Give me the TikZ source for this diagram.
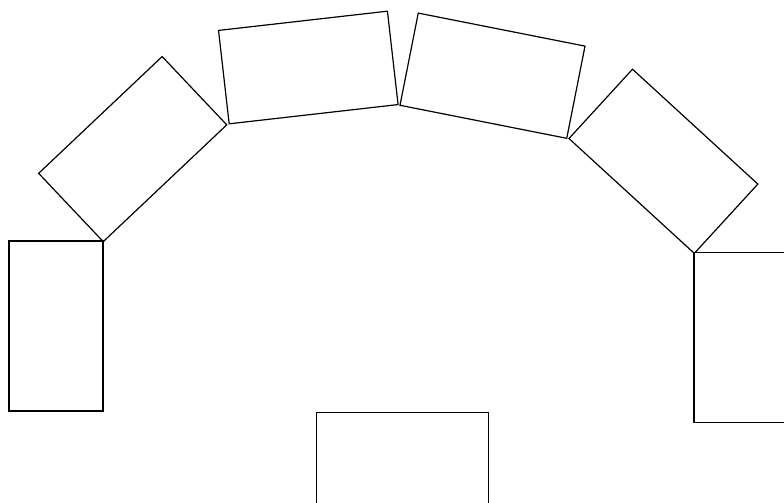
\documentclass[tikz,border=0pt]{standalone}
\usepackage{tikz}
\usetikzlibrary{positioning}

\begin{document}
\begin{tikzpicture}[
    x=1pt, y=-1pt,
    plank/.style={rectangle, draw=black, line width=1.2pt, fill=white,
                  minimum width=170pt, minimum height=94pt, inner sep=0pt},
    plankup/.style={plank, minimum width=94pt, minimum height=170pt}
]
\clip (0,0) rectangle (784,503);
\fill[white] (0,0) rectangle (784,503);
% arch of tilted planks
\node[plank, rotate=43.4] (archa) at (132.7,149.1) {};
\node[plank, rotate=6.5] (archb) at (308.3,67.5) {};
\node[plank, rotate=-11.2] (archc) at (492.5,75.7) {};
\node[plank, rotate=-42.5] (archd) at (663.4,161.3) {};
% upright posts and the base block
\node[plankup] (postl) at (56,326) {};
\node[plankup] (postr) at (741,337.3) {};
\node[plank, minimum width=172pt] (base) at (402.7,459.3) {};
\end{tikzpicture}
\end{document}
